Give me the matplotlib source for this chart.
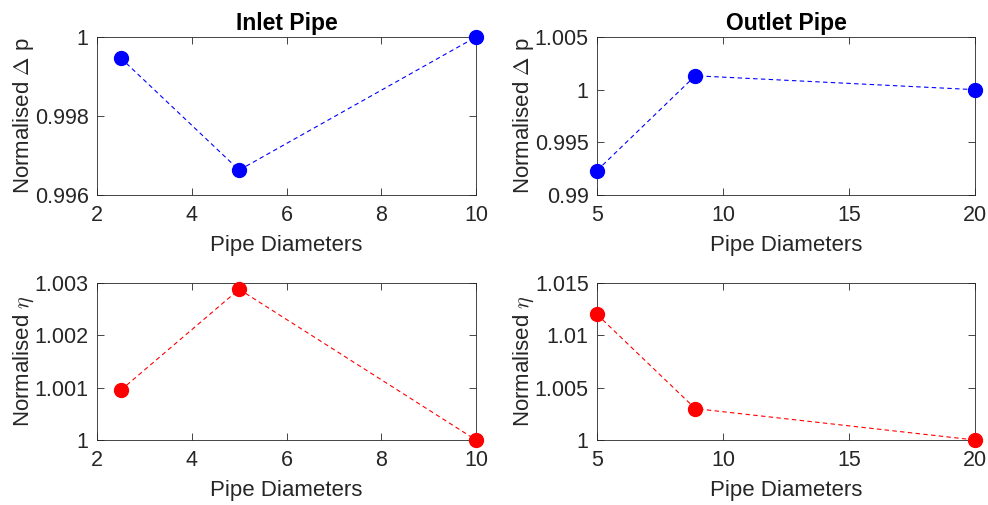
import numpy as np
import matplotlib.pyplot as plt
from matplotlib.ticker import FuncFormatter

plt.rcParams['font.family'] = ['Liberation Sans', 'DejaVu Sans']
plt.rcParams['mathtext.fontset'] = 'cm'

# data
inlet_d = [2.5, 5, 10]
inlet_dp = [0.99947, 0.99663, 1.0]
inlet_eta = [1.00095, 1.00288, 1.0]

outlet_d = [5, 8.9, 20]
outlet_dp = [0.99232, 1.00132, 1.0]
outlet_eta = [1.0120, 1.0030, 1.0]

gfmt = FuncFormatter(lambda v, p: '%g' % round(v, 6))
grey = '#262626'

fig = plt.figure(figsize=(9.88, 5.05), dpi=100)
W, H = 988, 505


def make_ax(l, r, t, b):
    return fig.add_axes([l / W, 1 - b / H, (r - l) / W, (b - t) / H])


axes = [make_ax(97, 476, 37, 195), make_ax(597, 975, 37, 195),
        make_ax(97, 476, 283, 440), make_ax(597, 975, 283, 440)]

series = [(inlet_d, inlet_dp, 'b'), (outlet_d, outlet_dp, 'b'),
          (inlet_d, inlet_eta, 'r'), (outlet_d, outlet_eta, 'r')]

ylims = [(0.996, 1.0), (0.99, 1.005), (1.0, 1.003), (1.0, 1.015)]
yticks = [[0.996, 0.998, 1.0], [0.99, 0.995, 1.0, 1.005],
          [1.0, 1.001, 1.002, 1.003], [1.0, 1.005, 1.01, 1.015]]
xlims = [(2, 10), (5, 20), (2, 10), (5, 20)]
xticks = [[2, 4, 6, 8, 10], [5, 10, 15, 20], [2, 4, 6, 8, 10], [5, 10, 15, 20]]
ylabels = [r'Normalised $\Delta$ p', r'Normalised $\Delta$ p',
           r'Normalised $\eta$', r'Normalised $\eta$']

for i, ax in enumerate(axes):
    x, y, c = series[i]
    ax.plot(x, y, '--', color=c, lw=0.8, dashes=(4, 3))
    ax.plot(x, y, 'o', color=c, ms=10, clip_on=False, zorder=5)
    ax.set_xlim(xlims[i])
    ax.set_ylim(ylims[i])
    ax.set_xticks(xticks[i])
    ax.set_yticks(yticks[i])
    ax.yaxis.set_major_formatter(gfmt)
    ax.tick_params(direction='in', top=True, right=True, labelsize=15.5,
                   colors=grey, length=5, width=0.6)
    ax.tick_params(axis='x', pad=7)
    ax.tick_params(axis='y', pad=6)
    for s in ax.spines.values():
        s.set_color(grey)
        s.set_linewidth(0.6)
    ax.set_xlabel('Pipe Diameters', fontsize=16, color=grey, labelpad=7)
    ax.set_ylabel(ylabels[i], fontsize=16, color=grey, labelpad=-1)

axes[0].set_title('Inlet Pipe', fontsize=16.5, fontweight='bold', pad=5)
axes[1].set_title('Outlet Pipe', fontsize=16.5, fontweight='bold', pad=5)

fig.savefig('out.png', dpi=100)
